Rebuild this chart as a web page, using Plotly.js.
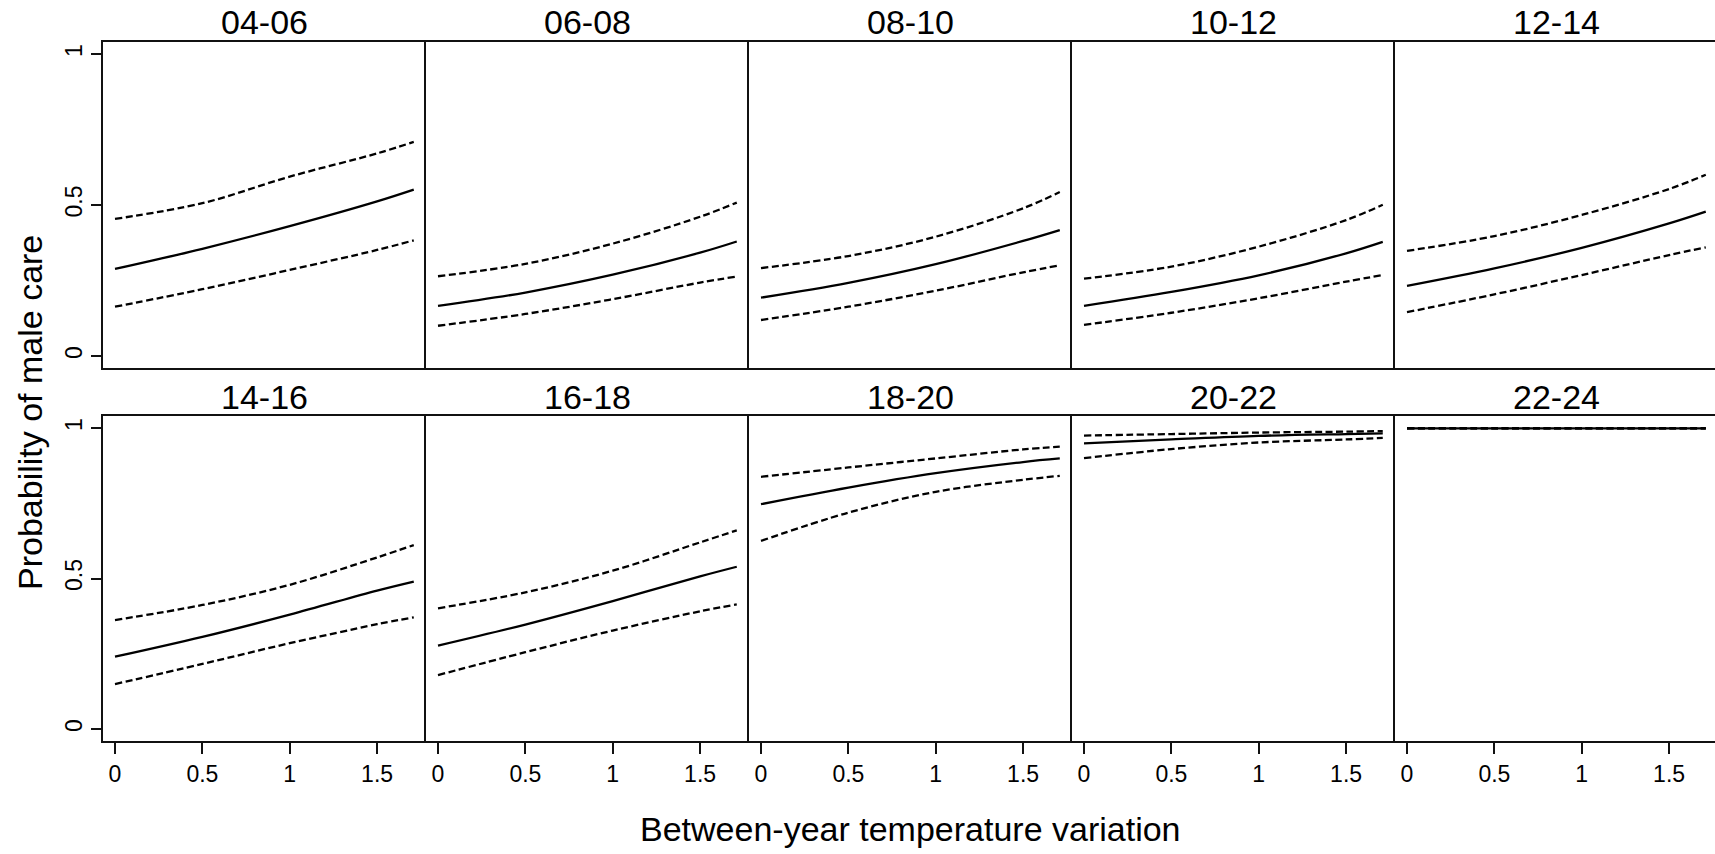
<!DOCTYPE html>
<html><head><meta charset="utf-8">
<script src="https://cdn.plot.ly/plotly-3.0.1.min.js"></script>
<style>html,body{margin:0;padding:0;overflow:hidden;background:#fff}#chart{width:1720px;height:854px}</style>
</head><body><div id="chart"></div>
<script>
// ---- data ----
const periods = ['04-06','06-08','08-10','10-12','12-14','14-16','16-18','18-20','20-22','22-24'];
const tempVar = [0, 0.5, 1, 1.5, 1.71];
const fitted = [
  [0.288, 0.355, 0.430, 0.512, 0.551],
  [0.166, 0.210, 0.269, 0.342, 0.379],
  [0.193, 0.242, 0.304, 0.381, 0.417],
  [0.166, 0.212, 0.267, 0.340, 0.378],
  [0.232, 0.290, 0.358, 0.439, 0.478],
  [0.240, 0.306, 0.380, 0.460, 0.490],
  [0.277, 0.347, 0.425, 0.507, 0.539],
  [0.747, 0.802, 0.850, 0.887, 0.899],
  [0.949, 0.962, 0.974, 0.980, 0.982],
  [0.999, 0.999, 0.999, 0.999, 0.999]
];
const upperCI = [
  [0.454, 0.506, 0.594, 0.671, 0.709],
  [0.264, 0.305, 0.372, 0.461, 0.508],
  [0.291, 0.331, 0.395, 0.489, 0.543],
  [0.256, 0.296, 0.362, 0.450, 0.501],
  [0.348, 0.397, 0.467, 0.553, 0.600],
  [0.362, 0.412, 0.479, 0.570, 0.611],
  [0.401, 0.454, 0.526, 0.620, 0.660],
  [0.838, 0.869, 0.899, 0.929, 0.938],
  [0.975, 0.980, 0.985, 0.988, 0.990],
  [0.9993, 0.9993, 0.9993, 0.9993, 0.9993]
];
const lowerCI = [
  [0.163, 0.221, 0.285, 0.351, 0.383],
  [0.100, 0.139, 0.188, 0.243, 0.263],
  [0.119, 0.163, 0.216, 0.277, 0.300],
  [0.103, 0.143, 0.191, 0.246, 0.268],
  [0.145, 0.204, 0.268, 0.334, 0.360],
  [0.149, 0.216, 0.285, 0.348, 0.371],
  [0.179, 0.255, 0.327, 0.391, 0.414],
  [0.625, 0.719, 0.788, 0.828, 0.841],
  [0.900, 0.930, 0.952, 0.962, 0.967],
  [0.9987, 0.9987, 0.9987, 0.9987, 0.9987]
];
const xTickVals = [0, 0.5, 1, 1.5];
const xTickText = ['0', '0.5', '1', '1.5'];
const yTickVals = [0, 0.5, 1];
const yTickText = ['0', '0.5', '1'];
const xTitle = 'Between-year temperature variation';
const yTitle = 'Probability of male care';

// ---- layout geometry ----
const W = 1720, H = 854;
const panelLeft = 103, panelW = 323;
const rowsPx = [{top: 42, bottom: 368, label: 22.5}, {top: 416, bottom: 741, label: 396.5}];
const FONT = '"Liberation Sans", Arial, Helvetica, sans-serif';
const LINE = '#111';

const traces = [];
const layout = {
  width: W, height: H,
  margin: {l: 0, r: 0, t: 0, b: 0},
  paper_bgcolor: '#fff', plot_bgcolor: '#fff',
  showlegend: false,
  font: {family: FONT, color: '#000'},
  annotations: []
};

periods.forEach((p, i) => {
  const row = Math.floor(i / 5), col = i % 5;
  const sfx = i === 0 ? '' : String(i + 1);
  const xa = 'x' + sfx, ya = 'y' + sfx;
  const x0 = (panelLeft + panelW * col) / W, x1 = (panelLeft + panelW * (col + 1)) / W;
  const r = rowsPx[row];
  const y0 = 1 - r.bottom / H, y1 = 1 - r.top / H;

  const dashStyle = {color: '#000', width: 2.3, dash: '7px,3.5px', shape: 'spline', smoothing: 1};
  traces.push({x: tempVar, y: fitted[i], xaxis: xa, yaxis: ya, mode: 'lines',
    line: {color: '#000', width: 2.3, shape: 'spline', smoothing: 1}, hoverinfo: 'skip'});
  traces.push({x: tempVar, y: lowerCI[i], xaxis: xa, yaxis: ya, mode: 'lines', line: dashStyle, hoverinfo: 'skip'});
  traces.push({x: tempVar, y: upperCI[i], xaxis: xa, yaxis: ya, mode: 'lines', line: dashStyle, hoverinfo: 'skip'});

  layout['xaxis' + sfx] = {
    domain: [x0, x1], anchor: ya, range: [-0.0687, 1.780],
    showline: true, mirror: true, linecolor: LINE, linewidth: 2,
    showgrid: false, zeroline: false,
    ticks: row === 1 ? 'outside' : '', ticklen: 11, tickwidth: 2, tickcolor: LINE,
    tickmode: 'array', tickvals: xTickVals, ticktext: xTickText,
    showticklabels: row === 1, tickfont: {size: 23, family: FONT, color: '#000'},
    fixedrange: true
  };
  layout['yaxis' + sfx] = {
    domain: [y0, y1], anchor: xa, range: [-0.04, 1.04],
    showline: true, mirror: col === 4, linecolor: LINE, linewidth: 2,
    showgrid: false, zeroline: false,
    ticks: col === 0 ? 'outside' : '', ticklen: 10, tickwidth: 2, tickcolor: LINE,
    tickmode: 'array', tickvals: yTickVals, ticktext: yTickText, tickangle: -90,
    showticklabels: col === 0, tickfont: {size: 23, family: FONT, color: '#000'},
    fixedrange: true
  };
  layout.annotations.push({
    text: p, xref: 'paper', yref: 'paper',
    x: (panelLeft + panelW * (col + 0.5)) / W, y: 1 - r.label / H,
    xanchor: 'center', yanchor: 'middle', showarrow: false,
    font: {size: 34, family: FONT, color: '#000'}
  });
});

layout.annotations.push({
  text: xTitle, xref: 'paper', yref: 'paper',
  x: (panelLeft + panelW * 2.5) / W, y: 1 - 829 / H,
  xanchor: 'center', yanchor: 'middle', showarrow: false,
  font: {size: 34, family: FONT, color: '#000'}
});
layout.annotations.push({
  text: yTitle, xref: 'paper', yref: 'paper',
  x: 30 / W, y: 1 - 413 / H, textangle: -90,
  xanchor: 'center', yanchor: 'middle', showarrow: false,
  font: {size: 34, family: FONT, color: '#000'}
});

Plotly.newPlot('chart', traces, layout, {staticPlot: true, displayModeBar: false});
</script>
</body></html>
